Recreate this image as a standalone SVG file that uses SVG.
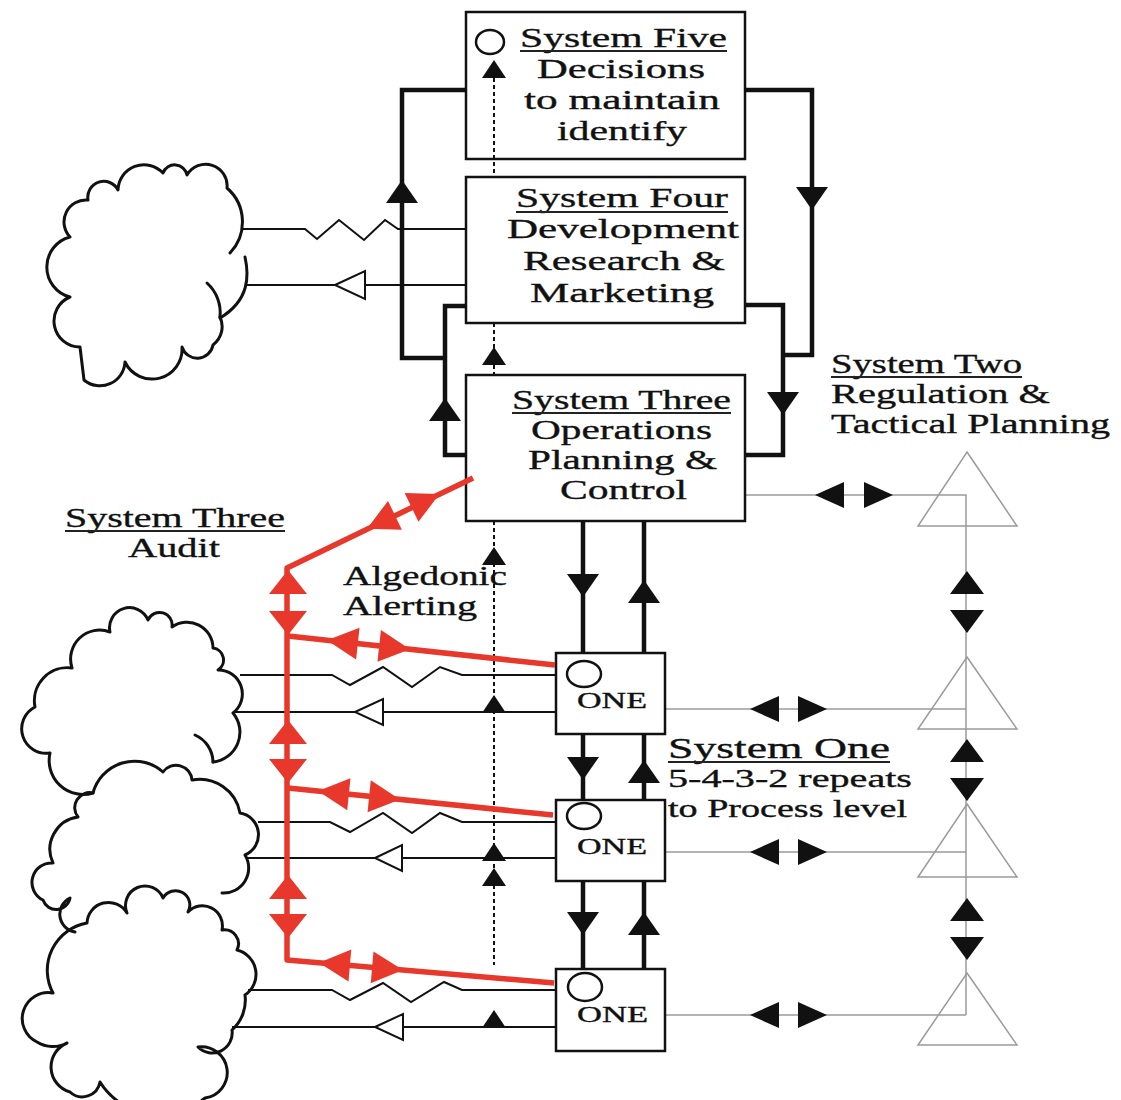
<svg xmlns="http://www.w3.org/2000/svg" xmlns:xlink="http://www.w3.org/1999/xlink" width="1121" height="1100" viewBox="0 0 1121 1100">
<style>
.box{fill:#fff;stroke:#111;stroke-width:2.5}
.thick{fill:none;stroke:#111;stroke-width:4.5}
.thin{fill:none;stroke:#111;stroke-width:2}
.dash{fill:none;stroke:#111;stroke-width:2;stroke-dasharray:4 3}
.gray{fill:none;stroke:#9a9a9a;stroke-width:1.5}
.red{fill:none;stroke:#e8382b;stroke-width:5.5;stroke-linejoin:round}
.rf{fill:#e8382b}
.bf{fill:#111}
.open{fill:#fff;stroke:#111;stroke-width:2}
.cloud{fill:none;stroke:#111;stroke-width:3;stroke-linejoin:round;stroke-linecap:round}
.circ{fill:#fff;stroke:#111;stroke-width:2.5}
.ul{stroke:#222;stroke-width:2}
text{font-family:"Liberation Serif",serif;fill:#111;stroke:#111;stroke-width:0.35}
.t30{font-size:30px}
.t28{font-size:28px}
.t26{font-size:26px}
.t23{font-size:23px}
</style>
<defs>
<path id="ab" d="M0,0 L-23,-16 L-23,16 Z"/>
<path id="as" d="M0,0 L-18,-12 L-18,12 Z"/>
<path id="ap" d="M0,0 L-29,-13 L-29,13 Z"/>
<path id="av" d="M0,0 L-23,-17 L-23,17 Z"/>
<path id="ar" d="M0,0 L-31,-16 L-31,16 Z"/>
<path id="arv" d="M0,0 L-24,-19 L-24,19 Z"/>
</defs>

<g id="cloud1">
<path class="cloud" d="M230,253 A45,45 0 0 0 227,188 A21.5,21.5 0 0 0 187,175 A12.5,12.5 0 0 0 163,173 A26,26 0 0 0 118,190 A16,16 0 0 0 88,200 A22,22 0 0 0 70,237 A31,31 0 0 0 70,297 A26,26 0 0 0 80,347 L84,380 A25,25 0 0 0 125,362 A30,30 0 0 0 182,347 A16,16 0 0 0 213,345 A23,23 0 0 0 220,317"/>
<path class="cloud" d="M207,283 A40,40 0 0 1 220,317"/>
<path class="cloud" d="M245,257 C249,275 250,300 220,318"/>
</g>
<g id="cloud2">
<path class="cloud" d="M213,762 A30,30 0 0 0 233,713 A24,24 0 0 0 218,670 A12,12 0 0 0 213,648 A26,26 0 0 0 172,627 A12.6,12.6 0 0 0 148,620 A20,20 0 0 0 110,632 A29,29 0 0 0 72,668 A33,33 0 0 0 35,707 A24.5,24.5 0 0 0 50,753 A34,34 0 0 0 93,793"/>
<path class="cloud" d="M195,735 A30,30 0 0 1 213,762"/>
</g>
<g id="cloud3">
<path class="cloud" d="M222,893 A25,25 0 0 0 245,855 A22,22 0 0 0 240,813 A41,41 0 0 0 192,780 A16,16 0 0 0 163,772 A43,43 0 0 0 93,793 A15,15 0 0 0 78,817 A32.5,32.5 0 0 0 53,863 A19.5,19.5 0 0 0 43,900 A14,14 0 0 0 70,898 A18,18 0 0 0 75,932"/>
</g>
<g id="cloud4">
<path class="cloud" d="M205,1098 A24,24 0 0 0 198,1047 A20,20 0 0 0 232,1030 A40,40 0 0 0 245,995 A25,25 0 0 0 237,950 A14,14 0 0 0 222,930 A20,20 0 0 0 188,912 A14,14 0 0 0 163,898 A19.5,19.5 0 0 0 127,913 A21.5,21.5 0 0 0 87,923 A48,48 0 0 0 53,993 A26,26 0 0 0 37,1042 A30,30 0 0 0 67,1043 A26,26 0 0 0 70,1092 A18,18 0 0 0 100,1082 A70,70 0 0 0 205,1098"/>
</g>

<g id="connectors">
<path class="thick" d="M466,90 H402 V358 H445"/>
<path class="thick" d="M466,306 H445 V455 H466"/>
<path class="thick" d="M745,90 H812 V355 H783"/>
<path class="thick" d="M745,305 H783 V455 H745"/>
<path class="thick" d="M583,521 V653 M583,734 V800 M583,881 V969"/>
<path class="thick" d="M644,521 V653 M644,734 V800 M644,881 V969"/>
<path class="dash" d="M494,323 V375 M494,521 V965"/>
<path class="thin" d="M242,229 H305 L317,239 L339,220 L364,240 L385,220 L398,229 H466"/>
<path class="thin" d="M246,285 H466"/>
<path class="thin" d="M240,675 H332 L350,685 L383,667 L412,687 L440,667 L462,675 H556"/>
<path class="thin" d="M233,712 H556"/>
<path class="thin" d="M258,822 H330 L350,832 L383,813 L412,833 L440,813 L462,822 H556"/>
<path class="thin" d="M247,858 H556"/>
<path class="thin" d="M248,990 H332 L350,1000 L383,983 L411,1002 L444,982 L462,990 H556"/>
<path class="thin" d="M232,1027 H556"/>
<polygon class="open" points="335,285 365,271 365,299"/>
<polygon class="open" points="355,712 383,699 383,725"/>
<polygon class="open" points="375,858 402,845 402,871"/>
<polygon class="open" points="375,1027 403,1014 403,1040"/>
<path class="gray" d="M745,495 H966 V1015 M665,709 H966 M665,852 H966 M665,1015 H966"/>
</g>

<g id="s2">
<polygon class="gray" points="967,452 1017,526 918,526"/>
<polygon class="gray" points="967,657 1017,729 918,729"/>
<polygon class="gray" points="967,804 1017,877 918,877"/>
<polygon class="gray" points="967,973 1017,1045 918,1045"/>
<text class="t28" x="831" y="373" textLength="191" lengthAdjust="spacingAndGlyphs">System Two</text>
<line class="ul" x1="831" y1="377" x2="1022" y2="377"/>
<text class="t28" x="831" y="403" textLength="219" lengthAdjust="spacingAndGlyphs">Regulation &amp;</text>
<text class="t28" x="831" y="433" textLength="279" lengthAdjust="spacingAndGlyphs">Tactical Planning</text>
</g>

<g id="s5">
<rect class="box" x="466" y="12" width="279" height="147"/>
<ellipse class="circ" cx="490" cy="42" rx="14" ry="12"/>
<text class="t28" x="520" y="47" textLength="207" lengthAdjust="spacingAndGlyphs">System Five</text>
<line class="ul" x1="520" y1="51" x2="727" y2="51"/>
<text class="t28" x="537" y="78" textLength="168" lengthAdjust="spacingAndGlyphs">Decisions</text>
<text class="t28" x="524" y="109" textLength="196" lengthAdjust="spacingAndGlyphs">to maintain</text>
<text class="t28" x="557" y="140" textLength="130" lengthAdjust="spacingAndGlyphs">identify</text>
</g>
<path class="dash" d="M494,78 V177"/>

<g id="s4">
<rect class="box" x="466" y="177" width="279" height="146"/>
<text class="t28" x="516" y="207" textLength="212" lengthAdjust="spacingAndGlyphs">System Four</text>
<line class="ul" x1="516" y1="212" x2="728" y2="212"/>
<text class="t28" x="507" y="238" textLength="232" lengthAdjust="spacingAndGlyphs">Development</text>
<text class="t28" x="523" y="270" textLength="202" lengthAdjust="spacingAndGlyphs">Research &amp;</text>
<text class="t28" x="530" y="302" textLength="184" lengthAdjust="spacingAndGlyphs">Marketing</text>
</g>

<g id="s3">
<rect class="box" x="466" y="375" width="279" height="146"/>
<text class="t28" x="512" y="409" textLength="219" lengthAdjust="spacingAndGlyphs">System Three</text>
<line class="ul" x1="512" y1="413" x2="731" y2="413"/>
<text class="t28" x="531" y="439" textLength="181" lengthAdjust="spacingAndGlyphs">Operations</text>
<text class="t28" x="528" y="469" textLength="189" lengthAdjust="spacingAndGlyphs">Planning &amp;</text>
<text class="t28" x="560" y="499" textLength="127" lengthAdjust="spacingAndGlyphs">Control</text>
</g>

<g id="one1">
<rect class="box" x="556" y="653" width="109" height="81"/>
<ellipse class="circ" cx="584" cy="674" rx="17" ry="13"/>
<text class="t23" x="577" y="708" textLength="70" lengthAdjust="spacingAndGlyphs">ONE</text>
</g>
<g id="one2">
<rect class="box" x="556" y="800" width="109" height="81"/>
<ellipse class="circ" cx="584" cy="816" rx="17" ry="13"/>
<text class="t23" x="577" y="854" textLength="70" lengthAdjust="spacingAndGlyphs">ONE</text>
</g>
<g id="one3">
<rect class="box" x="556" y="969" width="109" height="82"/>
<ellipse class="circ" cx="585" cy="987" rx="17" ry="14"/>
<text class="t23" x="577" y="1022" textLength="71" lengthAdjust="spacingAndGlyphs">ONE</text>
</g>

<g id="arrows" class="bf">
<use xlink:href="#ab" transform="translate(402,180) rotate(-90)"/>
<use xlink:href="#ab" transform="translate(445,398) rotate(-90)"/>
<use xlink:href="#ab" transform="translate(812,210) rotate(90)"/>
<use xlink:href="#ab" transform="translate(783,415) rotate(90)"/>
<use xlink:href="#ab" transform="translate(583,597) rotate(90)"/>
<use xlink:href="#ab" transform="translate(583,780) rotate(90)"/>
<use xlink:href="#ab" transform="translate(583,935) rotate(90)"/>
<use xlink:href="#ab" transform="translate(644,580) rotate(-90)"/>
<use xlink:href="#ab" transform="translate(644,760) rotate(-90)"/>
<use xlink:href="#ab" transform="translate(644,912) rotate(-90)"/>
<use xlink:href="#as" transform="translate(494,60) rotate(-90)"/>
<use xlink:href="#as" transform="translate(494,347) rotate(-90)"/>
<use xlink:href="#as" transform="translate(494,547) rotate(-90)"/>
<use xlink:href="#as" transform="translate(494,695) rotate(-90)"/>
<use xlink:href="#as" transform="translate(494,843) rotate(-90)"/>
<use xlink:href="#as" transform="translate(494,868) rotate(-90)"/>
<use xlink:href="#as" transform="translate(494,1010) rotate(-90)"/>
<use xlink:href="#ap" transform="translate(815,495) rotate(180)"/>
<use xlink:href="#ap" transform="translate(893,495)"/>
<use xlink:href="#ap" transform="translate(750,709) rotate(180)"/>
<use xlink:href="#ap" transform="translate(827,709)"/>
<use xlink:href="#ap" transform="translate(750,852) rotate(180)"/>
<use xlink:href="#ap" transform="translate(827,852)"/>
<use xlink:href="#ap" transform="translate(750,1015) rotate(180)"/>
<use xlink:href="#ap" transform="translate(827,1015)"/>
<use xlink:href="#av" transform="translate(967,571) rotate(-90)"/>
<use xlink:href="#av" transform="translate(967,633) rotate(90)"/>
<use xlink:href="#av" transform="translate(967,739) rotate(-90)"/>
<use xlink:href="#av" transform="translate(967,801) rotate(90)"/>
<use xlink:href="#av" transform="translate(967,898) rotate(-90)"/>
<use xlink:href="#av" transform="translate(967,960) rotate(90)"/>
</g>

<g id="algedonic">
<path class="red" d="M473,478 L287,568 V960 L554,983"/>
<path class="red" d="M288,636 L555,665"/>
<path class="red" d="M288,788 L553,815"/>
<g class="rf">
<use xlink:href="#ar" transform="translate(367,528.7) rotate(154.4)"/>
<use xlink:href="#ar" transform="translate(439.5,494) rotate(-25.6)"/>
<use xlink:href="#arv" transform="translate(288,570) rotate(-90)"/>
<use xlink:href="#arv" transform="translate(288,635) rotate(90)"/>
<use xlink:href="#arv" transform="translate(288,720) rotate(-90)"/>
<use xlink:href="#arv" transform="translate(288,783) rotate(90)"/>
<use xlink:href="#arv" transform="translate(288,875) rotate(-90)"/>
<use xlink:href="#arv" transform="translate(288,938) rotate(90)"/>
<use xlink:href="#ar" transform="translate(327,640.2) rotate(186.2)"/>
<use xlink:href="#ar" transform="translate(410,649.2) rotate(6.2)"/>
<use xlink:href="#ar" transform="translate(318,791.1) rotate(185.8)"/>
<use xlink:href="#ar" transform="translate(400,799.4) rotate(5.8)"/>
<use xlink:href="#ar" transform="translate(319,962.8) rotate(184.9)"/>
<use xlink:href="#ar" transform="translate(403,970) rotate(4.9)"/>
</g>
</g>

<g id="labels">
<text class="t28" x="65" y="527" textLength="220" lengthAdjust="spacingAndGlyphs">System Three</text>
<line class="ul" x1="65" y1="531" x2="285" y2="531"/>
<text class="t28" x="128" y="557" textLength="92" lengthAdjust="spacingAndGlyphs">Audit</text>
<text class="t28" x="343" y="585" textLength="164" lengthAdjust="spacingAndGlyphs">Algedonic</text>
<text class="t28" x="343" y="615" textLength="134" lengthAdjust="spacingAndGlyphs">Alerting</text>
<text class="t30" x="668" y="758" textLength="222" lengthAdjust="spacingAndGlyphs">System One</text>
<line class="ul" x1="668" y1="762" x2="890" y2="762"/>
<text class="t26" x="668" y="787" textLength="244" lengthAdjust="spacingAndGlyphs">5-4-3-2 repeats</text>
<text class="t26" x="668" y="817" textLength="239" lengthAdjust="spacingAndGlyphs">to Process level</text>
</g>
</svg>
